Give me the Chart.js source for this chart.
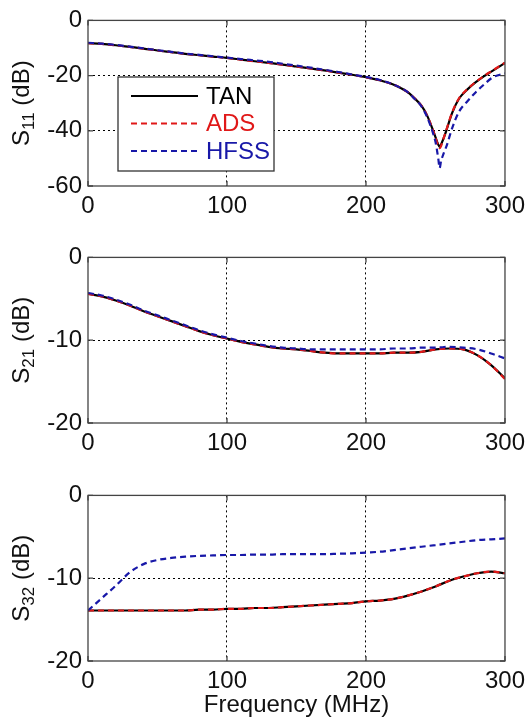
<!DOCTYPE html>
<html>
<head>
<meta charset="utf-8">
<script src="https://cdn.jsdelivr.net/npm/chart.js@4.4.1/dist/chart.umd.min.js"></script>
<style>
  html, body { margin: 0; padding: 0; background: #fff; }
  #wrap { position: relative; width: 531px; height: 721px; overflow: hidden; }
  #wrap canvas { position: absolute; left: 0; }
</style>
</head>
<body>
<div id="wrap">
  <canvas id="s11" width="531" height="228" style="top:0px"></canvas>
  <canvas id="s21" width="531" height="233" style="top:237px"></canvas>
  <canvas id="s32" width="531" height="246" style="top:475px"></canvas>
</div>
<script>
// ---------- Data ----------
const freqS11 = [0, 10, 20, 30, 40, 50, 60, 70, 80, 90, 100, 110, 120, 130, 140, 150, 160, 170, 180, 190, 200,
                 210, 220, 230, 234, 240, 244, 248, 250, 252, 253, 254, 256, 258, 262, 267, 273, 279, 285, 291, 300];
const tanS11  = [-8.2, -8.5, -9.0, -9.6, -10.2, -10.9, -11.5, -12.1, -12.6, -13.1, -13.6, -14.2, -14.8, -15.4, -16.0, -16.7, -17.4, -18.1, -18.9, -19.7, -20.6,
                 -21.7, -23.3, -26.0, -27.8, -31.0, -34.5, -39.5, -42.3, -45.0, -45.8, -45.0, -42.5, -39.6, -33.5, -28.3, -25.0, -22.4, -20.2, -18.3, -15.4];
const adsS11  = [-8.2, -8.5, -9.0, -9.6, -10.2, -10.9, -11.5, -12.1, -12.6, -13.1, -13.6, -14.2, -14.8, -15.4, -16.0, -16.7, -17.4, -18.1, -18.9, -19.7, -20.6,
                 -21.7, -23.3, -26.0, -27.8, -31.0, -34.5, -39.5, -42.5, -45.5, -46.3, -45.5, -42.5, -39.4, -33.3, -28.2, -24.9, -22.3, -20.1, -18.2, -15.3];
const hfssS11 = [-8.1, -8.4, -8.9, -9.5, -10.1, -10.8, -11.4, -12.0, -12.5, -13.0, -13.5, -14.0, -14.5, -15.0, -15.7, -16.4, -17.1, -17.9, -18.7, -19.6, -20.5,
                 -21.6, -23.3, -26.0, -27.9, -31.2, -35.0, -40.5, -44.0, -50.0, -53.5, -51.0, -48.0, -45.5, -39.0, -33.0, -29.3, -26.0, -23.2, -20.7, -19.2];

const freq = [0, 10, 20, 30, 40, 50, 60, 70, 80, 90, 100, 110, 120, 130, 140, 150, 160, 170, 180, 190, 200,
              210, 220, 230, 240, 250, 260, 270, 280, 290, 300];
const tanS21  = [-4.4, -4.7, -5.2, -5.8, -6.5, -7.1, -7.7, -8.3, -8.9, -9.4, -9.8, -10.2, -10.5, -10.8, -11.0, -11.1, -11.3, -11.5, -11.6, -11.6, -11.6,
                 -11.6, -11.5, -11.5, -11.4, -11.1, -11.0, -11.1, -11.8, -13.0, -14.6];
const adsS21  = [-4.4, -4.7, -5.2, -5.8, -6.5, -7.1, -7.7, -8.3, -8.9, -9.4, -9.8, -10.2, -10.5, -10.8, -11.0, -11.1, -11.3, -11.5, -11.6, -11.6, -11.6,
                 -11.6, -11.5, -11.5, -11.4, -11.1, -11.0, -11.1, -11.8, -13.0, -14.7];
const hfssS21 = [-4.3, -4.6, -5.1, -5.7, -6.4, -7.0, -7.6, -8.2, -8.8, -9.3, -9.7, -10.1, -10.4, -10.7, -10.9, -11.0, -11.1, -11.1, -11.1, -11.1, -11.1,
                 -11.1, -11.0, -11.0, -10.9, -10.9, -10.8, -10.9, -11.1, -11.6, -12.2];

const tanS32  = [-13.9, -13.9, -13.9, -13.9, -13.9, -13.9, -13.9, -13.9, -13.8, -13.8, -13.7, -13.7, -13.6, -13.6, -13.5, -13.4, -13.3, -13.2, -13.1, -13.0, -12.8,
                 -12.7, -12.5, -12.1, -11.6, -11.0, -10.3, -9.8, -9.4, -9.2, -9.4];
const adsS32  = [-13.9, -13.9, -13.9, -13.9, -13.9, -13.9, -13.9, -13.9, -13.8, -13.8, -13.7, -13.7, -13.6, -13.6, -13.5, -13.4, -13.3, -13.2, -13.1, -13.0, -12.8,
                 -12.7, -12.5, -12.1, -11.6, -11.0, -10.3, -9.8, -9.4, -9.2, -9.4];
const hfssS32 = [-13.9, -12.4, -10.9, -9.3, -8.3, -7.8, -7.55, -7.4, -7.3, -7.25, -7.2, -7.2, -7.15, -7.15, -7.1, -7.1, -7.1, -7.1, -7.05, -7.0, -6.9,
                 -6.8, -6.6, -6.4, -6.2, -6.0, -5.8, -5.6, -5.4, -5.3, -5.2];

const seriesNames = ['TAN', 'ADS', 'HFSS'];
const xTicks = [0, 100, 200, 300];

// ---------- Styling ----------
const FONT = "'Liberation Sans Narrow', 'Arial Narrow', 'Liberation Sans', Arial, sans-serif";
const FONT_SIZE = 24;
const styles = [
  { color: '#000000', dash: [], order: 3 },
  { color: '#e01818', dash: [6, 4], order: 2 },
  { color: '#1818a8', dash: [6, 4], order: 1 }
];

function toPoints(xs, ys) {
  return xs.map((x, i) => ({ x: x, y: ys[i] }));
}

// frame box + inward ticks like matlab
const framePlugin = {
  id: 'frame',
  afterDatasetsDraw(chart) {
    const { ctx, chartArea: a, scales } = chart;
    ctx.save();
    ctx.strokeStyle = '#444';
    ctx.lineWidth = 1.3;
    ctx.setLineDash([]);
    ctx.strokeRect(a.left, a.top, a.right - a.left, a.bottom - a.top);
    ctx.beginPath();
    scales.x.ticks.forEach(t => {
      const px = scales.x.getPixelForValue(t.value);
      ctx.moveTo(px, a.bottom); ctx.lineTo(px, a.bottom - 5);
      ctx.moveTo(px, a.top); ctx.lineTo(px, a.top + 5);
    });
    scales.y.ticks.forEach(t => {
      const py = scales.y.getPixelForValue(t.value);
      ctx.moveTo(a.left, py); ctx.lineTo(a.left + 5, py);
      ctx.moveTo(a.right, py); ctx.lineTo(a.right - 5, py);
    });
    ctx.stroke();
    ctx.restore();
  }
};

// rotated y title with a subscript: S_11 (dB)
const yTitlePlugin = {
  id: 'yTitleSub',
  afterDraw(chart, args, opts) {
    if (!opts.main) return;
    const { ctx, chartArea: a } = chart;
    const big = `${FONT_SIZE}px ${FONT}`;
    const small = `${Math.round(FONT_SIZE * 0.7)}px ${FONT}`;
    ctx.save();
    ctx.font = big;
    const w1 = ctx.measureText(opts.main).width;
    const w3 = ctx.measureText(opts.rest).width;
    ctx.font = small;
    const w2 = ctx.measureText(opts.sub).width;
    const total = w1 + w2 + w3;
    ctx.translate(opts.x, (a.top + a.bottom) / 2);
    ctx.rotate(-Math.PI / 2);
    ctx.fillStyle = '#111';
    ctx.textBaseline = 'alphabetic';
    ctx.textAlign = 'left';
    let cx = -total / 2;
    ctx.font = big;
    ctx.fillText(opts.main, cx, 0);
    cx += w1;
    ctx.font = small;
    ctx.fillText(opts.sub, cx, 5);
    cx += w2;
    ctx.font = big;
    ctx.fillText(opts.rest, cx, 0);
    ctx.restore();
  }
};

// legend box inside the top plot
const boxLegendPlugin = {
  id: 'boxLegend',
  afterDraw(chart, args, opts) {
    if (!opts.show) return;
    const ctx = chart.ctx;
    const x0 = 118, y0 = 77, w = 156, h = 94;
    ctx.save();
    ctx.fillStyle = '#fff';
    ctx.fillRect(x0, y0, w, h);
    ctx.strokeStyle = '#333';
    ctx.lineWidth = 1.3;
    ctx.strokeRect(x0, y0, w, h);
    const rows = [96, 123.5, 151];
    chart.data.datasets.forEach((ds, i) => {
      const y = rows[i];
      ctx.strokeStyle = ds.borderColor;
      ctx.lineWidth = 2;
      ctx.setLineDash(ds.borderDash);
      ctx.beginPath();
      ctx.moveTo(131, y);
      ctx.lineTo(198, y);
      ctx.stroke();
      ctx.setLineDash([]);
      ctx.fillStyle = ds.borderColor;
      ctx.font = `${FONT_SIZE}px ${FONT}`;
      ctx.textBaseline = 'middle';
      ctx.fillText(ds.label, 206, y + 1);
    });
    ctx.restore();
  }
};

function makePanel(id, xs, series, yMin, yStep, top, bottom, sub, opts) {
  const canvas = document.getElementById(id);
  const H = canvas.height;
  const datasets = series.map((ys, i) => ({
    label: seriesNames[i],
    data: toPoints(xs, ys),
    borderColor: styles[i].color,
    borderDash: styles[i].dash,
    borderWidth: 2.2,
    pointRadius: 0,
    cubicInterpolationMode: 'monotone',
    order: styles[i].order,
    fill: false
  }));
  const gridColor = (ctx) => {
    const v = ctx.tick ? ctx.tick.value : null;
    return (v === ctx.scale.min || v === ctx.scale.max) ? 'rgba(0,0,0,0)' : '#000';
  };
  return new Chart(canvas, {
    type: 'line',
    data: { datasets: datasets },
    plugins: [framePlugin, yTitlePlugin, boxLegendPlugin],
    options: {
      responsive: false,
      animation: false,
      devicePixelRatio: 1,
      layout: { padding: { left: 0, right: 18, top: top, bottom: 0 } },
      plugins: {
        legend: { display: false },
        tooltip: { enabled: false },
        yTitleSub: { main: 'S', sub: sub, rest: ' (dB)', x: 29 },
        boxLegend: { show: !!opts.legend }
      },
      scales: {
        x: {
          type: 'linear',
          min: 0, max: 300,
          afterBuildTicks: (scale) => { scale.ticks = xTicks.map(v => ({ value: v })); },
          afterFit: (scale) => { scale.height = H - bottom; },
          ticks: { font: { family: FONT, size: FONT_SIZE }, color: '#111', padding: 6, maxRotation: 0, autoSkip: false },
          grid: { color: gridColor, lineWidth: 1, drawTicks: false },
          border: { display: false, dash: [2, 3] },
          title: {
            display: !!opts.xTitle,
            text: 'Frequency (MHz)',
            font: { family: FONT, size: FONT_SIZE },
            color: '#111',
            padding: { top: 0, bottom: 1 }
          }
        },
        y: {
          min: yMin, max: 0,
          ticks: { stepSize: yStep, font: { family: FONT, size: FONT_SIZE }, color: '#111', padding: 6 },
          afterFit: (scale) => { scale.width = 88; },
          grid: { color: gridColor, lineWidth: 1, drawTicks: false },
          border: { display: false, dash: [2, 3] }
        }
      }
    }
  });
}

makePanel('s11', freqS11, [tanS11, adsS11, hfssS11], -60, 20, 16, 186, '11', { legend: true });
makePanel('s21', freq, [tanS21, adsS21, hfssS21], -20, 10, 16, 186, '21', {});
makePanel('s32', freq, [tanS32, adsS32, hfssS32], -20, 10, 16, 186, '32', { xTitle: true });
</script>
</body>
</html>
